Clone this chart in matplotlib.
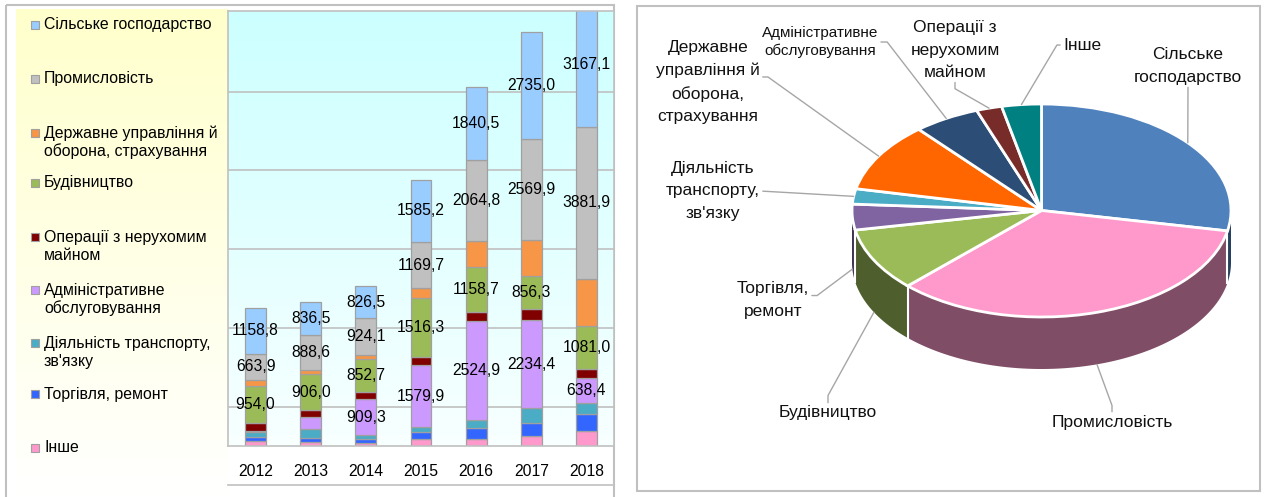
import numpy as np
import matplotlib
matplotlib.use('Agg')
import matplotlib.pyplot as plt
import matplotlib.colors as mcolors
from matplotlib.patches import Rectangle

plt.rcParams['font.family'] = ['Liberation Sans', 'DejaVu Sans']

W, H = 1265, 497

years = ['2012', '2013', '2014', '2015', '2016', '2017', '2018']

# bar segments, from the bottom of each bar to the top (млн. грн)
inshe = [127, 100, 85, 186, 178, 246, 381]
torhivlia = [110, 100, 100, 169, 288, 339, 440]
transport = [110, 237, 93, 118, 195, 372, 262]
admin = [30, 296, 909.3, 1579.9, 2524.9, 2234.4, 638.4]
neruh = [195, 178, 178, 203, 212, 279, 246]
budivn = [954.0, 906.0, 852.7, 1516.3, 1158.7, 856.3, 1081.0]
derzh = [152, 110, 100, 237, 653, 897, 1185]
prom = [663.9, 888.6, 924.1, 1169.7, 2064.8, 2569.9, 3881.9]
silske = [1158.8, 836.5, 826.5, 1585.2, 1840.5, 2735.0, 3167.1]

admin_labeled = [False, False, True, True, True, True, True]

# legend texts, top to bottom
legend_labels = ['Сільське господарство', 'Промисловість',
                 'Державне управління й\nоборона, страхування', 'Будівництво',
                 'Операції з нерухомим\nмайном', 'Адміністративне\nобслуговування',
                 "Діяльність транспорту,\nзв'язку", 'Торгівля, ремонт', 'Інше']

# pie (2018), clockwise from 12 o'clock
pie_labels = ['Сільське\nгосподарство', 'Промисловість', 'Будівництво',
              'Торгівля,\nремонт', "Діяльність\nтранспорту,\nзв'язку",
              'Державне\nуправління й\nоборона,\nстрахування',
              'Адміністративне\nобслуговування', 'Операції з\nнерухомим\nмайном',
              'Інше']
pie_values = [silske[-1], prom[-1], budivn[-1], torhivlia[-1], transport[-1],
              derzh[-1], admin[-1], neruh[-1], inshe[-1]]


def fmt(v):
    return f'{v:.1f}'.replace('.', ',')


def grad(c_top, c_bot, n=256):
    a = np.array(mcolors.to_rgb(c_top))
    b = np.array(mcolors.to_rgb(c_bot))
    t = np.linspace(0, 1, n)[:, None]
    return (a + (b - a) * t)[:, None, :]


fig = plt.figure(figsize=(W / 100, H / 100), dpi=100)

# background layer in pixel coordinates
bg = fig.add_axes([0, 0, 1, 1])
bg.imshow(grad('#ffffcc', '#ffffff'), extent=(16, 228, 497, 9), aspect='auto')
bg.add_patch(Rectangle((6, 5), 608, 500, fill=False, ec='#c0c0c0', lw=1.5, clip_on=False))
bg.plot([228, 614], [485, 485], color='#c0c0c0', lw=1.2)
bg.add_patch(Rectangle((637, 6), 623, 485, fc='white', ec='#c0c0c0', lw=1.5))
bg.text(237, 131, 'млн. грн', rotation=90, ha='center', va='center', fontsize=10.5)

legend_colors = ['#99ccff', '#c0c0c0', '#f79646', '#9bbb59', '#800000',
                 '#cc99ff', '#4bacc6', '#3366ff', '#ff99cc']
legend_y = [25, 79, 133, 183, 237, 290, 343, 394, 448]
step = 19
for lab, col, y in zip(legend_labels, legend_colors, legend_y):
    n = lab.count('\n') + 1
    bg.add_patch(Rectangle((31, y - 4), 8, 8, fc=col, ec='#a0a0a0', lw=0.8))
    bg.text(44, y + (n - 1) * step / 2, lab, va='center', ha='left', fontsize=11.4,
            linespacing=1.2)
bg.set_xlim(0, W)
bg.set_ylim(H, 0)
bg.axis('off')

# stacked bars
L, R, T, B = 228, 614, 11, 446
axb = fig.add_axes([L / W, (H - B) / H, (R - L) / W, (B - T) / H])
ymax = 11050
axb.imshow(grad('#ccffff', '#f8ffff'), extent=(-0.5, 6.5, 0, ymax), aspect='auto', zorder=0)

series = [
    (inshe, '#ff99cc', None),
    (torhivlia, '#3366ff', None),
    (transport, '#4bacc6', None),
    (admin, '#cc99ff', admin_labeled),
    (neruh, '#800000', None),
    (budivn, '#9bbb59', [True] * 7),
    (derzh, '#f79646', None),
    (prom, '#c0c0c0', [True] * 7),
    (silske, '#99ccff', [True] * 7),
]
x = np.arange(len(years))
bottom = np.zeros(len(years))
for vals, col, lab in series:
    vals = np.array(vals, dtype=float)
    axb.bar(x, vals, bottom=bottom, width=0.38, color=col, edgecolor='#a0a0a0',
            linewidth=0.9, zorder=2)
    if lab is not None:
        for i in range(len(years)):
            if lab[i]:
                axb.text(x[i], bottom[i] + vals[i] / 2, fmt(vals[i]), ha='center',
                         va='center', fontsize=11.3, zorder=5)
    bottom += vals

axb.set_xlim(-0.5, 6.5)
axb.set_ylim(0, ymax)
axb.set_xticks(x, years)
axb.set_yticks([1000, 3000, 5000, 7000, 9000])
axb.tick_params(axis='x', length=0, pad=13, labelsize=11.3)
axb.tick_params(axis='y', length=0, labelleft=False)
axb.set_axisbelow(True)
axb.grid(axis='y', color='#c0c0c0', lw=1.2)
for s in axb.spines.values():
    s.set_color('#c0c0c0')
    s.set_linewidth(1.2)

# 3-D looking pie
PL, PR, PT, PB = 637, 1260, 6, 491
cx, cy, rx, ry, depth_px = 1041.5, 210.5, 189.5, 106.5, 52
d = depth_px / ry
axp = fig.add_axes([PL / W, (H - PB) / H, (PR - PL) / W, (PB - PT) / H])
pie_colors = ['#4f81bd', '#ff99cc', '#9bbb59', '#8064a2', '#4bacc6',
              '#ff6600', '#2c4d75', '#772c2a', '#008080']

# side walls first
total = sum(pie_values)
ang = 90.0
bounds = []
for v, col in zip(pie_values, pie_colors):
    a2 = ang
    a1 = ang - v / total * 360
    lo, hi = max(a1, -180), min(a2, 0)
    if lo < hi:
        t = np.radians(np.linspace(lo, hi, 80))
        xs = np.cos(t)
        ys = np.sin(t)
        dark = np.array(mcolors.to_rgb(col)) * 0.5
        axp.fill(np.r_[xs, xs[::-1]], np.r_[ys, ys[::-1] - d], color=dark, lw=0, zorder=1)
    bounds.append(a1)
    ang = a1
for a in bounds:
    if -180 < a < 0:
        t = np.radians(a)
        axp.plot([np.cos(t), np.cos(t)], [np.sin(t), np.sin(t) - d], color='white', lw=1.5,
                 zorder=1.5)

wedges, _ = axp.pie(pie_values, colors=pie_colors, startangle=90, counterclock=False,
                    radius=1, wedgeprops=dict(edgecolor='white', linewidth=2, zorder=2))

pie_text_pos = [(1188, 66), (1112, 422), (828, 413), (773, 300), (713, 191),
                (708, 82), (820, 42), (955, 50), (1082, 45)]
pie_relpos = [(0.5, 0), (0.5, 1), (0.5, 1), (1, 0.62), (1, 0.5), (1, 0.56),
              (1, 0.5), (0.5, 0), (0, 0.5)]
pie_conn = ['arc3', 'arc,angleA=90,armA=9,rad=0', 'arc,angleA=90,armA=10,rad=0',
            'arc,angleA=0,armA=8,rad=0', 'arc3', 'arc,angleA=0,armA=8,rad=0',
            'arc,angleA=0,armA=9,rad=0', 'arc,angleA=-90,armA=9,rad=0',
            'arc,angleA=180,armA=6,rad=0']
for w, lab, (px, py), rp, cs in zip(wedges, pie_labels, pie_text_pos, pie_relpos, pie_conn):
    tm = np.radians((w.theta1 + w.theta2) / 2)
    ax_, ay_ = np.cos(tm), np.sin(tm)
    if ay_ < 0:
        ay_ -= d
    fs = 11 if lab.startswith('Адмін') else 12.5
    ls = 1.25 if lab.startswith('Адмін') else 1.6
    axp.annotate(lab, xy=(ax_, ay_), xytext=(px, H - py), textcoords='figure pixels',
                 ha='center', va='center', fontsize=fs, linespacing=ls, color='#111111',
                 arrowprops=dict(arrowstyle='-', color='#a6a6a6', lw=1, shrinkA=0, shrinkB=0,
                                 relpos=rp, connectionstyle=cs))

axp.set_aspect('auto')
axp.set_xlim((PL - cx) / rx, (PR - cx) / rx)
axp.set_ylim((cy - PB) / ry, (cy - PT) / ry)
axp.axis('off')

fig.savefig('out.png', dpi=100)
